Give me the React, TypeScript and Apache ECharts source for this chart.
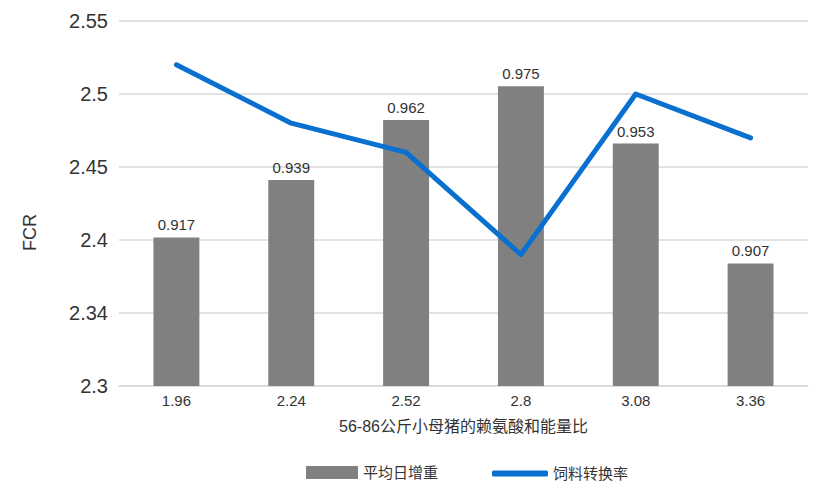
import React, { useEffect, useRef } from "react";
import * as echarts from "echarts";

const categories = ["1.96", "2.24", "2.52", "2.8", "3.08", "3.36"];
const gainValues = [0.917, 0.939, 0.962, 0.975, 0.953, 0.907];
const fcrValues = [2.52, 2.48, 2.46, 2.39, 2.5, 2.47];
const yTickLabels = ["2.3", "2.34", "2.4", "2.45", "2.5", "2.55"];

const FONT = "'Liberation Sans', Arial, 'Noto Sans CJK SC', sans-serif";

const App: React.FC = () => {
  const chartRef = useRef<HTMLDivElement>(null);

  useEffect(() => {
    if (!chartRef.current) return undefined;
    const chart = echarts.init(chartRef.current, undefined, { renderer: "svg" });

    const options: echarts.EChartsOption = {
      animation: false,
      textStyle: { fontFamily: FONT },
      grid: { left: 119, right: 12, top: 21, bottom: 112 },
      legend: [
        {
          data: ["平均日增重"],
          left: 301,
          top: 460,
          icon: "rect",
          itemWidth: 52,
          itemHeight: 13,
          textStyle: { fontSize: 15, color: "#333", fontFamily: FONT, padding: [0, 0, 22, 0] },
        },
        {
          data: ["饲料转换率"],
          left: 487,
          top: 461,
          icon: "roundRect",
          itemWidth: 56,
          itemHeight: 6,
          textStyle: { fontSize: 15, color: "#333", fontFamily: FONT },
        },
      ],
      xAxis: {
        type: "category",
        data: categories,
        name: "56-86公斤小母猪的赖氨酸和能量比",
        nameLocation: "middle",
        nameGap: 32,
        nameTextStyle: { fontSize: 16, color: "#333", fontFamily: FONT },
        axisLine: { lineStyle: { color: "#d9d9d9", width: 1.5 } },
        axisTick: { show: false },
        axisLabel: { fontSize: 15, color: "#333", margin: 7 },
      },
      yAxis: [
        {
          type: "value",
          min: 2.3,
          max: 2.55,
          interval: 0.05,
          name: "FCR",
          nameLocation: "middle",
          nameGap: 80,
          nameTextStyle: { fontSize: 18, color: "#333", fontFamily: FONT, padding: [0, 58, 0, 0] },
          axisLine: { show: false },
          axisTick: { show: false },
          axisLabel: {
            fontSize: 20,
            color: "#333",
            margin: 11,
            formatter: (_v: number, i: number) => yTickLabels[i],
          },
          splitLine: { lineStyle: { color: "#d9d9d9", width: 1.5 } },
        },
        {
          type: "value",
          min: 0.86,
          max: 1.0,
          show: false,
          splitLine: { show: false },
        },
      ],
      series: [
        {
          name: "平均日增重",
          type: "bar",
          yAxisIndex: 1,
          data: gainValues,
          barWidth: "40%",
          itemStyle: { color: "#808080" },
          label: {
            show: true,
            position: "top",
            fontSize: 15,
            color: "#333",
            distance: 5,
          },
        },
        {
          name: "饲料转换率",
          type: "line",
          yAxisIndex: 0,
          data: fcrValues,
          showSymbol: false,
          symbol: "none",
          lineStyle: { color: "#0a70d0", width: 5, cap: "round", join: "round" },
          itemStyle: { color: "#0a70d0" },
        },
      ],
    };
    chart.setOption(options);

    return () => {
      chart.dispose();
    };
  }, []);

  return (
    <div
      ref={chartRef}
      style={{ position: "fixed", left: 0, top: 0, width: "820px", height: "498px", background: "#fff" }}
    />
  );
};

export default App;
